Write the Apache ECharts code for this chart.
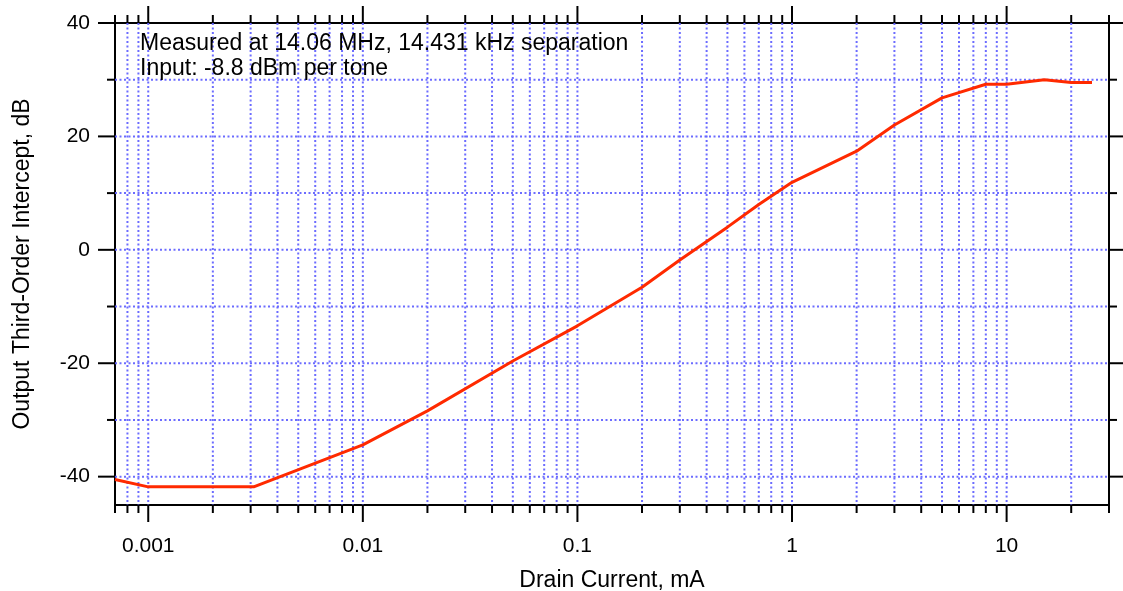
<!DOCTYPE html>
<html>
<head>
<meta charset="utf-8">
<script src="https://cdn.jsdelivr.net/npm/echarts@6/dist/echarts.min.js"></script>
<style>
html,body{margin:0;padding:0;background:#fff;}
#chart{width:1123px;height:591px;}
</style>
</head>
<body>
<div id="chart"></div>
<script>
// ---- data ----
const drainCurrent = [0.0007, 0.001, 0.0031, 0.01, 0.02, 0.05, 0.1, 0.2, 0.3, 0.5, 0.7, 1, 2, 3, 5, 8, 10, 15, 20, 25];
const intercept    = [-40.5, -41.8, -41.8, -34.4, -28.4, -19.6, -13.4, -6.6, -1.8, 4.0, 8.0, 11.9, 17.4, 22.0, 26.8, 29.2, 29.2, 30.0, 29.5, 29.5];

const X_MIN = 0.0007, X_MAX = 30;
const Y_MIN = -45, Y_MAX = 40;
const xMajorTicks = [0.001, 0.01, 0.1, 1, 10];
const xMinorTicks = [0.0007, 0.0008, 0.0009,
  0.002, 0.003, 0.004, 0.005, 0.006, 0.007, 0.008, 0.009,
  0.02, 0.03, 0.04, 0.05, 0.06, 0.07, 0.08, 0.09,
  0.2, 0.3, 0.4, 0.5, 0.6, 0.7, 0.8, 0.9,
  2, 3, 4, 5, 6, 7, 8, 9,
  20, 30];
const yMajorTicks = [-40, -20, 0, 20, 40];
const yMinorTicks = [-30, -10, 10, 30];

const annotation = ['Measured at 14.06 MHz, 14.431 kHz separation', 'Input: -8.8 dBm per tone'];
const xName = 'Drain Current, mA';
const yName = 'Output Third-Order Intercept, dB';

// ---- styles ----
const FONT = '"Liberation Sans", Arial, Helvetica, sans-serif';
const GRID_COLOR = 'rgba(100,100,255,0.95)';
const MAJOR_LEN = 17, MINOR_LEN = 8;

const xTickData = xMajorTicks.map(v => [v, Y_MIN, 1]).concat(xMinorTicks.map(v => [v, Y_MIN, 0]));
const yTickData = yMajorTicks.map(v => [X_MIN, v, 1]).concat(yMinorTicks.map(v => [X_MIN, v, 0]));
const lineData = drainCurrent.map((x, i) => [x, intercept[i]]);

function isPow10(v) {
  const l = Math.log10(v);
  return Math.abs(l - Math.round(l)) < 1e-6;
}

function dotted(x1, y1, x2, y2) {
  return {type: 'line', shape: {x1, y1, x2, y2},
    style: {stroke: GRID_COLOR, lineWidth: 2, lineDash: [2, 2.5]}};
}
function solid(x1, y1, x2, y2) {
  return {type: 'line', shape: {x1, y1, x2, y2}, style: {stroke: '#000', lineWidth: 2}};
}

const chart = echarts.init(document.getElementById('chart'), null, {renderer: 'canvas'});
chart.setOption({
  animation: false,
  backgroundColor: '#fff',
  title: {
    text: annotation.join('\n'),
    left: 140, top: 31, padding: 0,
    textStyle: {fontFamily: FONT, fontSize: 23, fontWeight: 'normal', color: '#000', lineHeight: 25}
  },
  grid: {left: 115, right: 14, top: 23, bottom: 86, show: true,
    containLabel: false, outerBoundsMode: 'none',
    borderColor: '#000', borderWidth: 2, backgroundColor: 'transparent'},
  xAxis: {
    type: 'log', logBase: 10, min: X_MIN, max: X_MAX,
    name: xName, nameLocation: 'middle', nameGap: 64,
    nameTextStyle: {fontFamily: FONT, fontSize: 23, color: '#000'},
    axisLine: {show: false}, axisTick: {show: false}, splitLine: {show: false},
    axisLabel: {
      fontFamily: FONT, fontSize: 21, color: '#000', margin: 31,
      showMinLabel: false, showMaxLabel: false,
      formatter: v => isPow10(v) ? String(+v.toPrecision(6)) : ''
    }
  },
  yAxis: {
    type: 'value', min: Y_MIN, max: Y_MAX, interval: 5,
    name: yName, nameLocation: 'middle', nameGap: 81,
    nameTextStyle: {fontFamily: FONT, fontSize: 23, color: '#000'},
    axisLine: {show: false}, axisTick: {show: false}, splitLine: {show: false},
    axisLabel: {
      fontFamily: FONT, fontSize: 21, color: '#000', margin: 25,
      formatter: v => (yMajorTicks.indexOf(v) >= 0 ? String(v) : '')
    }
  },
  series: [
    {
      type: 'custom', coordinateSystem: 'cartesian2d', silent: true, clip: false, z: 3,
      encode: {x: 0, y: 1},
      data: xTickData,
      renderItem: function (params, api) {
        const cs = params.coordSys;
        const px = api.coord([api.value(0), Y_MIN])[0];
        const len = api.value(2) ? MAJOR_LEN : MINOR_LEN;
        const top = cs.y, bot = cs.y + cs.height;
        const children = [];
        const edge = Math.abs(px - cs.x) < 2 || Math.abs(px - (cs.x + cs.width)) < 2;
        if (!edge) children.push(dotted(px, top, px, bot));
        children.push(solid(px, bot, px, bot + len));
        children.push(solid(px, top, px, top - len));
        return {type: 'group', children};
      }
    },
    {
      type: 'custom', coordinateSystem: 'cartesian2d', silent: true, clip: false, z: 3,
      encode: {x: 0, y: 1},
      data: yTickData,
      renderItem: function (params, api) {
        const cs = params.coordSys;
        const py = api.coord([X_MIN, api.value(1)])[1];
        const len = api.value(2) ? MAJOR_LEN : MINOR_LEN;
        const left = cs.x, right = cs.x + cs.width;
        const children = [];
        const edge = Math.abs(py - cs.y) < 2 || Math.abs(py - (cs.y + cs.height)) < 2;
        if (!edge) children.push(dotted(left, py, right, py));
        children.push(solid(left, py, left - len, py));
        children.push(solid(right, py, right + len, py));
        return {type: 'group', children};
      }
    },
    {
      type: 'line', data: lineData, symbol: 'none', z: 10, silent: true,
      lineStyle: {color: '#ff2a00', width: 3}
    }
  ]
});
</script>
</body>
</html>
